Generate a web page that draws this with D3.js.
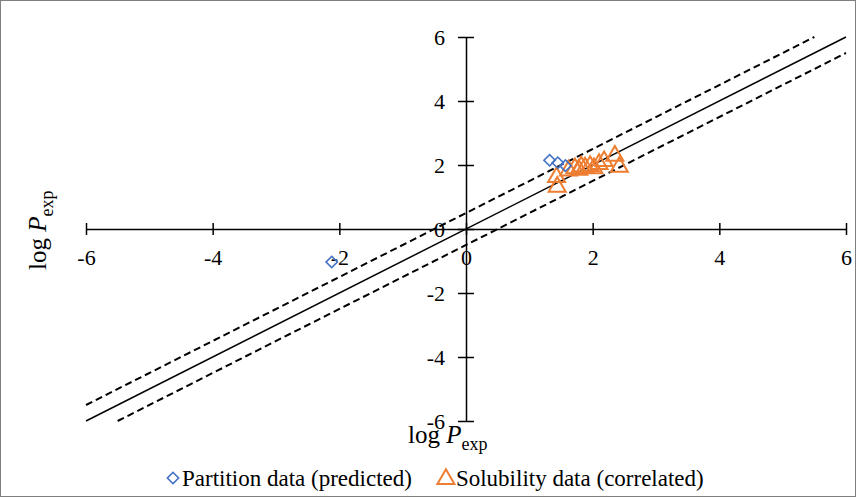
<!DOCTYPE html>
<html>
<head>
<meta charset="utf-8">
<script src="https://cdn.jsdelivr.net/npm/d3@7/dist/d3.min.js"></script>
<style>
  html, body { margin: 0; padding: 0; background: #fff; }
  svg { display: block; }
  text { font-family: "Liberation Serif", "Times New Roman", serif; }
</style>
</head>
<body>
<svg id="chart" width="856" height="497"></svg>
<script>
const FONT = "'Liberation Serif', 'Times New Roman', serif";

// Axis ticks
const xTicks = [-6, -4, -2, 0, 2, 4, 6];
const yTicks = [-6, -4, -2, 0, 2, 4, 6];

// Partition data (predicted): [log P calc, log P exp]
const partitionX = [-2.12, 1.32, 1.45, 1.57];
const partitionY = [-1.03, 2.15, 2.07, 1.98];

// Solubility data (correlated)
const solubilityX = [1.43, 1.44, 1.62, 1.72, 1.78, 1.82, 1.88, 1.96, 2.02, 2.10, 2.18, 2.35, 2.42];
const solubilityY = [1.65, 1.35, 1.86, 1.93, 1.88, 1.98, 1.95, 2.00, 1.93, 2.06, 2.15, 2.32, 1.97];

// Reference lines: y = x and y = x ± 0.5
const refLines = [
  { name: "identity", offset: 0, dash: null },
  { name: "upper", offset: 0.5, dash: "7,4" },
  { name: "lower", offset: -0.5, dash: "7,4" }
];

const legendLabels = ["Partition data (predicted)", "Solubility data (correlated)"];

const svg = d3.select("#chart");
const W = 856, H = 497;

svg.append("rect")
  .attr("x", 0.5).attr("y", 0.5)
  .attr("width", W - 1).attr("height", H - 1)
  .attr("fill", "#fff").attr("stroke", "#7f7f7f").attr("stroke-width", 1);

const x = d3.scaleLinear().domain([-6, 6]).range([86, 846]);
const y = d3.scaleLinear().domain([-6, 6]).range([421, 37]);

// Reference lines clipped to the plotting square
refLines.forEach(l => {
  const x0 = Math.max(-6, -6 - l.offset);
  const x1 = Math.min(6, 6 - l.offset);
  svg.append("line")
    .attr("x1", x(x0)).attr("y1", y(x0 + l.offset))
    .attr("x2", x(x1)).attr("y2", y(x1 + l.offset))
    .attr("stroke", "#000")
    .attr("stroke-width", l.dash ? 2 : 1.5)
    .attr("stroke-dasharray", l.dash);
});

// Axes crossing at the origin; labels use a plain hyphen for negatives
const fmt = d => String(d);
const xAxis = d3.axisBottom(x).tickValues(xTicks).tickSize(0).tickFormat(fmt);
const yAxis = d3.axisLeft(y).tickValues(yTicks).tickSize(0).tickFormat(fmt);

const gx = svg.append("g").attr("transform", `translate(0,${y(0)})`).call(xAxis)
  .attr("font-family", FONT).attr("font-size", 22);
gx.select(".domain").attr("stroke", "#000").attr("stroke-width", 1.5);
gx.selectAll(".tick line").remove();
gx.selectAll(".tick").append("line")
  .attr("y1", -6).attr("y2", 6).attr("stroke", "#000").attr("stroke-width", 1.5);
gx.selectAll(".tick text")
  .attr("y", 29).attr("dy", "0.32em")
  .attr("fill", "#000");

const gy = svg.append("g").attr("transform", `translate(${x(0)},0)`).call(yAxis)
  .attr("font-family", FONT).attr("font-size", 22);
gy.select(".domain").attr("stroke", "#000").attr("stroke-width", 1.5);
gy.selectAll(".tick line").remove();
gy.selectAll(".tick").append("line")
  .attr("x1", -8).attr("x2", 8).attr("stroke", "#000").attr("stroke-width", 1.5);
gy.selectAll(".tick text")
  .attr("x", -21).attr("dy", "0.32em")
  .attr("fill", "#000");

// Markers
const diamond = d3.symbol().type(d3.symbolSquare).size(64);
const triangle = d3.symbol().type(d3.symbolTriangle).size(125);

svg.append("g").selectAll("path")
  .data(solubilityX.map((v, i) => [v, solubilityY[i]]))
  .join("path")
  .attr("d", triangle)
  .attr("transform", d => `translate(${x(d[0])},${y(d[1]) + 1})`)
  .attr("fill", "none").attr("stroke", "#ED7D31").attr("stroke-width", 2);

svg.append("g").selectAll("path")
  .data(partitionX.map((v, i) => [v, partitionY[i]]))
  .join("path")
  .attr("d", diamond)
  .attr("transform", d => `translate(${x(d[0])},${y(d[1])}) rotate(45)`)
  .attr("fill", "none").attr("stroke", "#4472C4").attr("stroke-width", 1.6);

// Axis titles
function axisTitle(g) {
  g.append("tspan").text("log ");
  g.append("tspan").attr("font-style", "italic").text("P");
  g.append("tspan").attr("font-size", 18).attr("dy", 7).text("exp");
}
const tx = svg.append("text")
  .attr("x", 408).attr("y", 443)
  .attr("font-family", FONT).attr("font-size", 25).attr("fill", "#000");
axisTitle(tx);

const ty = svg.append("text")
  .attr("transform", "translate(46,270) rotate(-90)")
  .attr("font-family", FONT).attr("font-size", 25).attr("fill", "#000");
axisTitle(ty);

// Legend
const leg = svg.append("g").attr("font-family", FONT).attr("font-size", 23).attr("fill", "#000");
leg.append("path").attr("d", diamond)
  .attr("transform", "translate(173,478) rotate(45)")
  .attr("fill", "none").attr("stroke", "#4472C4").attr("stroke-width", 1.6);
const t1 = leg.append("text").attr("x", 182).attr("y", 478).attr("dy", "0.33em").text(legendLabels[0]);
const end1 = 182 + t1.node().getComputedTextLength();
leg.append("path").attr("d", triangle)
  .attr("transform", `translate(${end1 + 34},479)`)
  .attr("fill", "none").attr("stroke", "#ED7D31").attr("stroke-width", 2);
leg.append("text").attr("x", end1 + 44).attr("y", 478).attr("dy", "0.33em").text(legendLabels[1]);
</script>
</body>
</html>
